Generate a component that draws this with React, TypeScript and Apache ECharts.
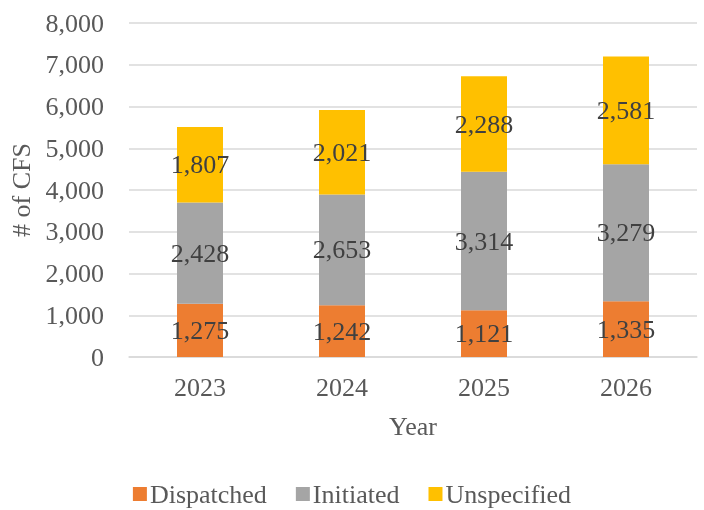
import React, { useEffect, useRef } from "react";
import * as echarts from "echarts";

const categories = ["2023", "2024", "2025", "2026"];
const dispatched = [1275, 1242, 1121, 1335];
const initiated = [2428, 2653, 3314, 3279];
const unspecified = [1807, 2021, 2288, 2581];
const seriesNames = ["Dispatched", "Initiated", "Unspecified"];
const colors = ["#ED7D31", "#A5A5A5", "#FFC000"];

const FONT = "'Liberation Serif', 'Times New Roman', serif";
const FS = 26;

export default function App() {
  const ref = useRef<HTMLDivElement>(null);
  useEffect(() => {
    if (!ref.current) return;
    const chart = echarts.init(ref.current, undefined, { renderer: "svg" });
    const mk = (name: string, data: number[], color: string) => ({
      name,
      type: "bar",
      stack: "total",
      data,
      barWidth: 46,
      itemStyle: { color },
      label: {
        show: true,
        position: "inside",
        color: "#404040",
        fontFamily: FONT,
        fontSize: FS,
        formatter: (p: any) => Number(p.value).toLocaleString("en-US"),
      },
    });
    chart.setOption({
      animation: false,
      textStyle: { fontFamily: FONT },
      grid: { left: 125, right: 7, top: 23, bottom: 153, containLabel: false },
      legend: {
        top: 476,
        left: "center",
        itemWidth: 14,
        itemHeight: 14,
        itemGap: 29,
        icon: "rect",
        textStyle: { fontFamily: FONT, fontSize: FS, color: "#595959", padding: [0, 0, 0, -2] },
        data: seriesNames,
      },
      xAxis: {
        type: "category",
        data: categories,
        name: "Year",
        nameLocation: "middle",
        nameGap: 56,
        nameTextStyle: { fontFamily: FONT, fontSize: FS, color: "#595959" },
        axisLine: { show: true, lineStyle: { color: "#D9D9D9", width: 1.5 } },
        axisTick: { show: false },
        axisLabel: { fontFamily: FONT, fontSize: FS, color: "#595959", margin: 17 },
      },
      yAxis: {
        type: "value",
        min: 0,
        max: 8000,
        interval: 1000,
        name: "# of CFS",
        nameLocation: "middle",
        nameGap: 95,
        nameTextStyle: { fontFamily: FONT, fontSize: FS, color: "#595959" },
        axisLine: { show: false },
        axisTick: { show: false },
        splitLine: { lineStyle: { color: "#D9D9D9", width: 1.5 } },
        axisLabel: {
          fontFamily: FONT,
          fontSize: FS,
          color: "#595959",
          margin: 25,
          formatter: (v: number) => v.toLocaleString("en-US"),
        },
      },
      series: [
        mk(seriesNames[0], dispatched, colors[0]),
        mk(seriesNames[1], initiated, colors[1]),
        mk(seriesNames[2], unspecified, colors[2]),
      ],
    });
    return () => chart.dispose();
  }, []);
  return (
    <div
      ref={ref}
      style={{ position: "fixed", left: 0, top: 0, width: 704, height: 510 }}
    />
  );
}
